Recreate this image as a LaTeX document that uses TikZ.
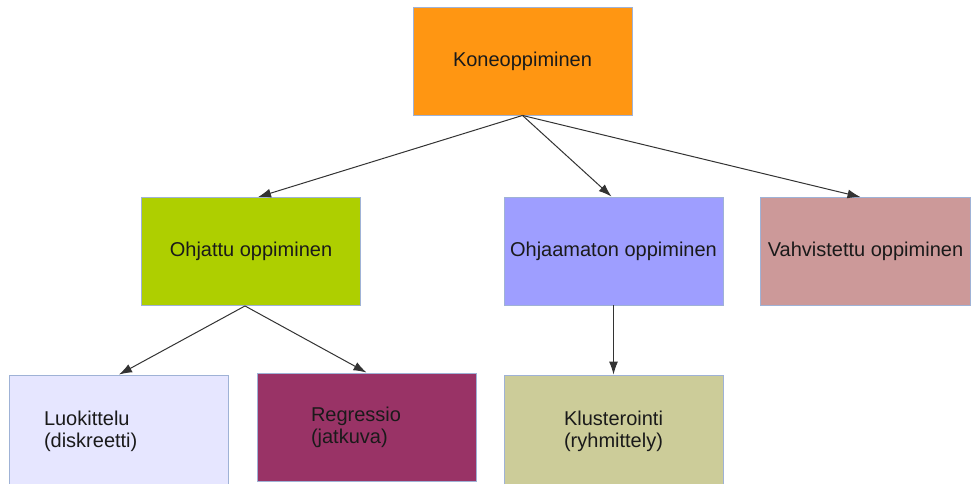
\documentclass[tikz,border=0pt]{standalone}
\usepackage{fontspec}
\setmainfont{Liberation Sans}
\usetikzlibrary{arrows.meta,calc}
\definecolor{bordc}{HTML}{9FB2D6}
\definecolor{txtc}{HTML}{1A1A1A}
\definecolor{linec}{HTML}{333333}
\definecolor{cKone}{HTML}{FF9612}
\definecolor{cOhj}{HTML}{AECF00}
\definecolor{cOhjm}{HTML}{9E9EFF}
\definecolor{cVahv}{HTML}{CC9999}
\definecolor{cLuok}{HTML}{E6E6FF}
\definecolor{cRegr}{HTML}{993366}
\definecolor{cKlus}{HTML}{CCCC99}
\begin{document}
\begin{tikzpicture}[x=1pt,y=-1pt,
  box/.style={draw=bordc, line width=0.9pt, minimum width=219pt, minimum height=108pt,
    inner sep=0pt, font=\fontsize{20}{22}\selectfont, text=txtc},
  arr/.style={draw=linec, line width=1pt, -{Latex[length=13pt,width=9pt]}}]
\useasboundingbox[fill=white] (0,0) rectangle (971,483);
\clip (0,0) rectangle (971,483);
\node[box, fill=cKone] (kone) at (522.5,61) {Koneoppiminen};
\node[box, fill=cOhj] (ohj) at (251,251.5) {Ohjattu oppiminen};
\node[box, fill=cOhjm] (ohjm) at (613.5,251) {Ohjaamaton oppiminen};
\node[box, fill=cVahv, minimum width=210pt] (vahv) at (865.5,251.5) {Vahvistettu oppiminen};
\node[box, fill=cLuok, minimum height=112pt, text width=150pt, inner xsep=34pt, align=left] (luok) at (119,431) {Luokittelu\\(diskreetti)};
\node[box, fill=cRegr, text width=111pt, inner xsep=54pt, align=left] (regr) at (366.5,427) {Regressio\\(jatkuva)};
\node[box, fill=cKlus, minimum height=112pt, align=center] (klus) at (613.5,431) {Klusterointi\\(ryhmittely)};
\draw[arr] (kone.south) -- ($(ohj.north)+(7,0)$);
\draw[arr] (kone.south) -- ($(ohjm.north)+(-2,0)$);
\draw[arr] (kone.south) -- ($(vahv.north)+(-5,0)$);
\draw[arr] ($(ohj.south)+(-6,0)$) -- (luok.north);
\draw[arr] ($(ohj.south)+(-6,0)$) -- (regr.north);
\draw[arr] (ohjm.south) -- (klus.north);
\end{tikzpicture}
\end{document}
